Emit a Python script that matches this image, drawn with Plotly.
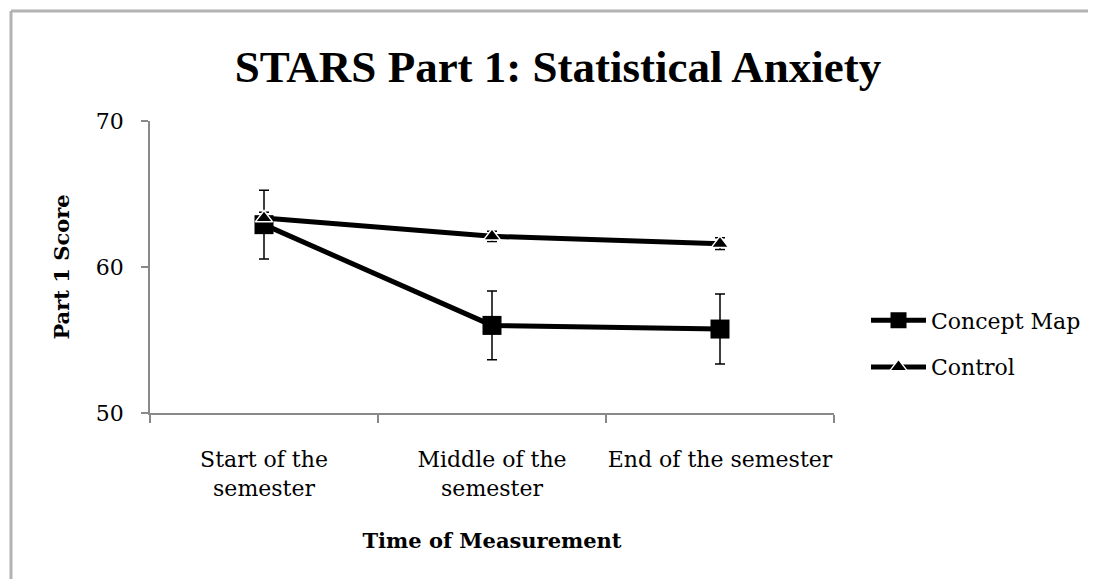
import plotly.graph_objects as go

categories = ["Start of the<br>semester", "Middle of the<br>semester", "End of the semester"]
concept_map = [62.9, 56.0, 55.75]
concept_err = [2.35, 2.35, 2.4]
control = [63.35, 62.1, 61.6]
control_err = [0.4, 0.35, 0.4]

FONT = "DejaVu Serif"
TITLE_FONT = "Liberation Serif"

fig = go.Figure()
fig.add_trace(go.Scatter(
    x=categories, y=concept_map, name="Concept Map", mode="lines+markers",
    line=dict(color="black", width=5),
    marker=dict(symbol="square", size=19, color="black"),
    error_y=dict(type="data", array=concept_err, color="black", thickness=1.5, width=5),
    legendgroup="a",
))
fig.add_trace(go.Scatter(
    x=categories, y=control, name="Control", mode="lines+markers",
    line=dict(color="black", width=5),
    marker=dict(symbol="triangle-up", size=15, color="black", line=dict(color="white", width=1.5)),
    error_y=dict(type="data", array=control_err, color="black", thickness=1.5, width=5),
    legendgroup="b",
))

# page is offset by the 8px body margin
W, H = 1088, 571
L, R, T, B = 142, 826, 113, 405
PW, PH = R - L, B - T

def px(x):
    return (x - L) / PW

def py(y):
    return (B - y) / PH

fig.update_layout(
    width=W, height=H,
    margin=dict(l=L, r=W - R, t=T, b=H - B, autoexpand=False),
    paper_bgcolor="white", plot_bgcolor="white",
    font=dict(family=FONT, color="black", size=22),
    title=dict(text="<b>STARS Part 1: Statistical Anxiety</b>", x=550 / W, xanchor="center",
               y=1 - 58 / H, yanchor="middle", font=dict(size=45, family=TITLE_FONT),
               automargin=False),
    showlegend=True,
    legend=dict(x=px(858), xanchor="left", y=py(336), yanchor="middle",
                font=dict(size=22), tracegroupgap=15, itemwidth=55,
                bgcolor="rgba(0,0,0,0)"),
    xaxis=dict(
        type="category", range=[-0.5, 2.5], showline=True, linecolor="#898989", linewidth=1.5,
        ticks="outside", tickson="boundaries", ticklen=8, tickcolor="#898989", tickwidth=1.5,
        showgrid=False, tickfont=dict(size=22), ticklabelstandoff=26, tickangle=0,
        automargin=False,
        title=dict(text="<b>Time of Measurement</b>", font=dict(size=21), standoff=34),
    ),
    yaxis=dict(
        range=[50, 70], dtick=10, showline=True, linecolor="#898989", linewidth=1.5,
        ticks="outside", ticklen=7, tickcolor="#898989", tickwidth=1.5,
        showgrid=False, zeroline=False, tickfont=dict(size=22), ticklabelstandoff=13,
        automargin=False,
        title=dict(text="<b>Part 1 Score</b>", font=dict(size=21), standoff=20),
    ),
    shapes=[
        dict(type="line", xref="paper", yref="paper",
             x0=px(3), x1=px(3), y0=py(3), y1=py(620),
             line=dict(color="#b3b3b3", width=3)),
        dict(type="line", xref="paper", yref="paper",
             x0=px(3), x1=px(1120), y0=py(3), y1=py(3),
             line=dict(color="#b3b3b3", width=3)),
    ],
)

fig.write_html("out.html")
